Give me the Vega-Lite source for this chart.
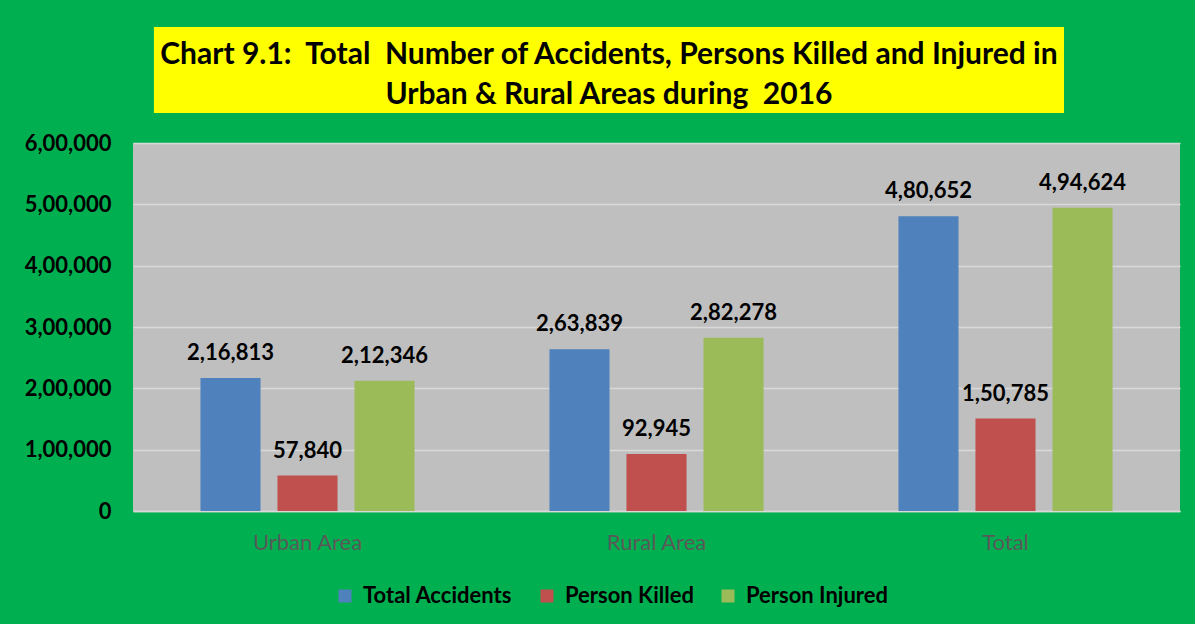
{
  "$schema": "https://vega.github.io/schema/vega-lite/v6.json",
  "background": "#00B050",
  "padding": {"left": 24, "top": 27, "right": 18, "bottom": 20},
  "config": {"font": "Lato", "view": {"stroke": null}},
  "spacing": 19,
  "vconcat": [
    {
      "width": 1047,
      "height": 86,
      "data": {"values": [
        {"box": "title", "row": 1, "line": "Chart 9.1:\u00a0 Total\u00a0 Number of Accidents, Persons Killed and Injured in"},
        {"box": "title", "row": 2, "line": "Urban & Rural Areas during\u00a0 2016"}
      ]},
      "encoding": {
        "x": {"field": "box", "type": "nominal", "axis": null, "scale": {"type": "band", "paddingInner": 0, "paddingOuter": 0.07527, "align": 0.153}}
      },
      "layer": [
        {
          "mark": {"type": "bar", "color": "#FFFF00", "width": {"band": 1}},
          "encoding": {}
        },
        {
          "mark": {"type": "text", "fontSize": 30, "fontWeight": "bold", "color": "#000000", "baseline": "middle", "align": "center", "dy": 5},
          "encoding": {
            "y": {"field": "row", "type": "ordinal", "axis": null, "scale": {"type": "point", "padding": 0.6}},
            "text": {"field": "line"}
          }
        }
      ]
    },
    {
      "width": 1047,
      "height": 368,
      "view": {"fill": "#BFBFBF", "stroke": null},
      "data": {"values": [
        {"area": "Urban Area", "measure": "Total Accidents", "value": 216813, "label": "2,16,813"},
        {"area": "Urban Area", "measure": "Person Killed", "value": 57840, "label": "57,840"},
        {"area": "Urban Area", "measure": "Person Injured", "value": 212346, "label": "2,12,346"},
        {"area": "Rural Area", "measure": "Total Accidents", "value": 263839, "label": "2,63,839"},
        {"area": "Rural Area", "measure": "Person Killed", "value": 92945, "label": "92,945"},
        {"area": "Rural Area", "measure": "Person Injured", "value": 282278, "label": "2,82,278"},
        {"area": "Total", "measure": "Total Accidents", "value": 480652, "label": "4,80,652"},
        {"area": "Total", "measure": "Person Killed", "value": 150785, "label": "1,50,785"},
        {"area": "Total", "measure": "Person Injured", "value": 494624, "label": "4,94,624"}
      ]},
      "encoding": {
        "x": {
          "field": "area", "type": "nominal", "sort": ["Urban Area", "Rural Area", "Total"],
          "scale": {"paddingInner": 0, "paddingOuter": 0},
          "axis": {"title": null, "labelAngle": 0, "labelFontSize": 22, "labelColor": "#595959", "ticks": false, "domainColor": "#D9D9D9", "domainWidth": 1.5, "labelPadding": 21}
        },
        "xOffset": {
          "field": "measure", "type": "nominal", "sort": ["Total Accidents", "Person Killed", "Person Injured"],
          "scale": {"paddingInner": 0.22, "paddingOuter": 0.876}
        },
        "y": {
          "field": "value", "type": "quantitative",
          "scale": {"domain": [0, 600000], "nice": false},
          "axis": {"title": null, "values": [0, 100000, 200000, 300000, 400000, 500000, 600000], "labelExpr": "datum.value == 0 ? '0' : format(datum.value / 100000, 'd') + ',00,000'", "labelFontSize": 22, "labelFontWeight": "bold", "labelColor": "#000000", "ticks": false, "domain": false, "gridColor": "#D9D9D9", "gridWidth": 1.5, "labelPadding": 22, "minExtent": 106, "maxExtent": 106}
        }
      },
      "layer": [
        {
          "mark": {"type": "bar"},
          "encoding": {
            "color": {
              "field": "measure", "type": "nominal",
              "scale": {"domain": ["Total Accidents", "Person Killed", "Person Injured"], "range": ["#4F81BD", "#C0504D", "#9BBB59"]},
              "legend": {"title": null, "orient": "none", "direction": "horizontal", "legendX": 201, "legendY": 558, "padding": 0, "symbolType": "square", "symbolSize": 169, "symbolStrokeWidth": 0, "labelFontSize": 22, "labelFontWeight": "bold", "labelColor": "#000000", "labelOffset": 7, "columnPadding": 23}
            }
          }
        },
        {
          "mark": {"type": "text", "fontSize": 22, "fontWeight": "bold", "color": "#000000", "baseline": "middle", "dy": -25},
          "encoding": {"text": {"field": "label"}}
        }
      ]
    }
  ]
}
